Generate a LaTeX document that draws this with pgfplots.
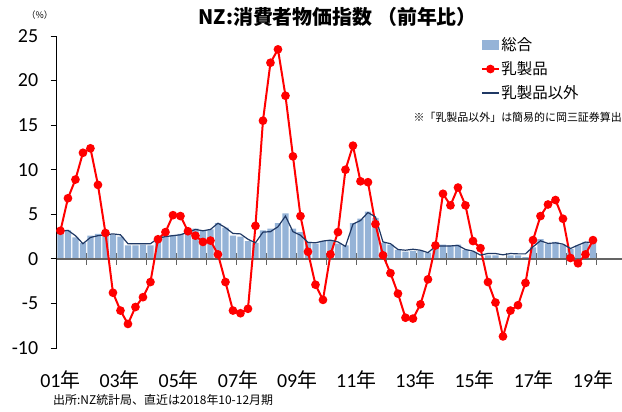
\documentclass[border=0pt]{standalone}
\usepackage{fontspec}
\setmainfont{Carlito}
\newfontfamily\cjk{Noto Sans CJK JP}
\usepackage{pgfplots}
\pgfplotsset{compat=1.18}
\usepackage{pgfplotstable}

\definecolor{barblue}{RGB}{149,179,215}
\definecolor{navyline}{RGB}{31,56,100}
\definecolor{zerogray}{RGB}{100,100,100}

% quarterly, 2001Q1 = 0 ... 2018Q4 = 71 (YoY %)
\pgfplotstableread{
i total dairy exdairy
0 3.1 3.15 3.1
1 3.2 6.8 3.2
2 2.4 8.9 2.6
3 1.8 11.9 1.7
4 2.6 12.4 2.4
5 2.8 8.3 2.6
6 2.6 2.9 2.7
7 2.7 -3.8 2.8
8 2.5 -5.8 2.7
9 1.5 -7.3 1.7
10 1.5 -5.4 1.7
11 1.6 -4.3 1.7
12 1.5 -2.6 1.7
13 2.4 2.2 2.3
14 2.5 3.0 2.5
15 2.7 4.9 2.6
16 2.8 4.8 2.7
17 2.8 3.1 3.0
18 3.4 2.6 3.3
19 3.2 1.9 3.15
20 3.3 2.05 3.3
21 4.0 0.5 4.0
22 3.5 -2.6 3.5
23 2.6 -5.8 2.85
24 2.5 -6.1 2.8
25 2.0 -5.6 2.2
26 1.8 3.7 1.8
27 3.2 15.5 3.0
28 3.4 22.0 3.05
29 4.0 23.5 3.6
30 5.1 18.3 4.8
31 3.4 11.5 3.05
32 3.0 4.8 2.65
33 1.9 0.8 1.85
34 1.7 -2.9 1.8
35 2.0 -4.6 2.0
36 2.0 0.5 2.1
37 1.7 3.0 1.9
38 1.5 10.0 1.4
39 4.0 12.7 3.9
40 4.5 8.7 4.3
41 5.3 8.6 5.2
42 4.6 3.9 4.7
43 1.8 0.4 1.9
44 1.6 -1.6 1.7
45 1.0 -3.9 1.05
46 0.8 -6.6 0.97
47 0.9 -6.7 1.08
48 0.9 -5.1 0.97
49 0.7 -2.3 0.7
50 1.4 1.5 1.4
51 1.6 7.3 1.45
52 1.5 6.0 1.45
53 1.6 8.0 1.5
54 1.0 6.0 1.05
55 0.8 2.0 0.87
56 0.1 1.2 0.42
57 0.4 -2.6 0.6
58 0.4 -4.9 0.6
59 0.1 -8.7 0.45
60 0.4 -5.8 0.6
61 0.4 -5.2 0.56
62 0.2 -2.7 0.56
63 1.3 2.1 1.35
64 2.2 4.8 2.03
65 1.7 6.1 1.73
66 1.9 6.6 1.8
67 1.6 4.5 1.65
68 1.1 0.1 1.16
69 1.5 -0.5 1.54
70 1.9 0.5 1.88
71 1.9 2.1 1.85
}\cpidata

\begin{document}
\begin{tikzpicture}
\path[use as bounding box] (-56.7bp,-64bp) rectangle (565.3bp,348bp);
\begin{axis}[
  at={(0,0)}, anchor=south west,
  scale only axis, width=565.3bp, height=312bp,
  xmin=-0.5, xmax=74.87, ymin=-10, ymax=25,
  axis x line=middle, axis y line=left,
  x axis line style={draw=none},
  y axis line style={black, line width=0.8bp, -},
  hide obscured x ticks=false, hide obscured y ticks=false,
  xtick={0,7.889,15.778,23.667,31.556,39.444,47.333,55.222,63.111,71},
  xticklabels={01{\cjk 年},03{\cjk 年},05{\cjk 年},07{\cjk 年},09{\cjk 年},11{\cjk 年},13{\cjk 年},15{\cjk 年},17{\cjk 年},19{\cjk 年}},
  major x tick style={draw=none},
  minor xtick={-0.5,3.5,7.5,11.5,15.5,19.5,23.5,27.5,31.5,35.5,39.5,43.5,47.5,51.5,55.5,59.5,63.5,67.5,71.5},
  minor x tick style={zerogray, line width=1.2bp},
  minor tick length=12bp,
  xtick align=center,
  ytick={-10,-5,0,5,10,15,20,25},
  yticklabels={-10,-5,0,5,10,15,20,25},
  ytick align=outside,
  major tick length=6bp,
  major y tick style={black, line width=0.8bp},
  tick label style={font=\fontsize{20}{22}\selectfont},
  xticklabel style={anchor=center, yshift=-118bp},
  yticklabel style={anchor=east, xshift=-9bp},
  legend style={at={(0.7448,1.006)}, anchor=north west, draw=none, fill=none,
    font=\cjk\fontsize{15.5}{17}\selectfont, row sep=6.5bp,
    nodes={inner sep=1.5bp}},
  legend cell align=left,
]
\addplot[ybar, bar width=0.83, fill=barblue, draw=none,
  legend image code/.code={\fill[barblue] (0bp,-5bp) rectangle (17bp,5bp);}]
  table[x=i, y=total]{\cpidata};
\addlegendentry{総合}
\addplot[zerogray, line width=2bp, forget plot] coordinates {(-0.5,0) (74.87,0)};
\addplot[red, line width=2bp, mark=*, mark size=3.3bp, mark options={solid, fill=red, draw=red},
  legend image code/.code={\draw[red, line width=2bp] (0bp,0bp) -- (17bp,0bp); \fill[red] (8.5bp,0bp) circle (3.3bp);}]
  table[x=i, y=dairy]{\cpidata};
\addlegendentry{乳製品}
\addplot[navyline, line width=1.2bp, no marks,
  legend image code/.code={\draw[navyline, line width=1.2bp] (0bp,0bp) -- (17bp,0bp);}]
  table[x=i, y=exdairy]{\cpidata};
\addlegendentry{乳製品以外}
\end{axis}
\node[font=\cjk\fontsize{9}{10}\selectfont] at (-17bp,333bp) {（\%）};
\node[font=\cjk\bfseries\fontsize{20}{22}\selectfont] at (281bp,331bp) {NZ:消費者物価指数 （前年比）};
\node[anchor=east, inner sep=0pt, font=\cjk\fontsize{11}{12}\selectfont] at (565.3bp,230.5bp) {※「乳製品以外」は簡易的に岡三証券算出};
\node[anchor=west, inner sep=0pt, font=\cjk\fontsize{12}{13}\selectfont] at (-3.7bp,-52bp) {出所:NZ統計局、直近は2018年10-12月期};
\end{tikzpicture}
\end{document}
